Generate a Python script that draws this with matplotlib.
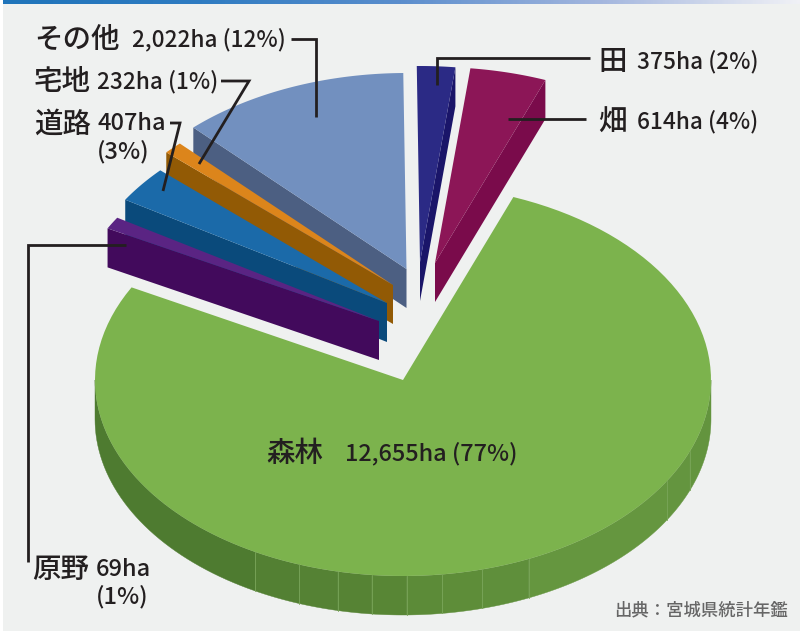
import numpy as np
import matplotlib
matplotlib.use("Agg")
import matplotlib.pyplot as plt

plt.rcParams["font.family"] = ["Noto Sans CJK JP", "DejaVu Sans"]
plt.rcParams["font.weight"] = "medium"

# slices, clockwise from 12 o'clock
names = ["田", "畑", "森林", "原野", "道路", "宅地", "その他"]
hectares = ["375ha", "614ha", "12,655ha", "69ha", "407ha", "232ha", "2,022ha"]
percents = [2, 4, 77, 1, 3, 1, 12]

top_colors = ["#2b2a85", "#8c1657", "#7cb34d", "#5a2483", "#1b6aa9", "#dc851b", "#7290bf"]
wall_colors = ["#1a1569", "#7a0b4b", "#4e7b30", "#420a5c", "#0a4a7b", "#925a05", "#4c5f82"]
# where each exploded slice has its point, in pixels
tips = [(420, 262), (435, 263), (403, 380), (379, 321), (387, 303), (393, 285), (406.5, 269)]
draw_order = [6, 5, 4, 3, 0, 1, 2]

RX, RY, DEPTH = 308, 196, 39
ROTATION = -0.6
INK = "#231f20"

# shading of the big slice's rim, angle from straight down (+ = right)
rim_edges = [90, 68.7, 59, 24.1, 14.9, 7.3, 0.7, -5.8, -12.2, -19.7, -28.7, -90]
rim_colors = ["#63943e", "#64953f", "#65963f", "#5f8f3b", "#5e8d39", "#5c8b38",
              "#588635", "#568334", "#558234", "#538033", "#4e7b30"]


def arc(tip, a0, a1, n=120):
    t = np.radians(np.linspace(a0, a1, n))
    return tip[0] + RX * np.sin(t), tip[1] - RY * np.cos(t)


fig = plt.figure(figsize=(8.02, 6.32), dpi=100, facecolor="white")
ax = fig.add_axes([0, 0, 1, 1])
ax.axis("off")

ax.fill([3, 800, 800, 3], [0, 0, 631, 631], color="#eff1f0", lw=0, zorder=0)

# top band
band = matplotlib.colors.LinearSegmentedColormap.from_list(
    "band", ["#1f74ba", "#2f7cc2", "#5b8ecd", "#a3b6de", "#f0f1f6"]
)
ax.imshow(np.linspace(0, 1, 400).reshape(1, -1), cmap=band, aspect="auto",
          extent=(3, 800, 4, 0), zorder=1)
ax.set_xlim(0, 802)
ax.set_ylim(632, 0)

angles = np.cumsum([0] + percents) * 3.6 + ROTATION

z = 2
for i in draw_order:
    a0, a1 = angles[i], angles[i + 1]
    tip = tips[i]
    x, y = arc(tip, a0, a1)
    if a1 - a0 < 180:
        # cut face that looks towards the viewer
        edge = a1 if (a0 + a1) / 2 < 180 else a0
        ex = tip[0] + RX * np.sin(np.radians(edge))
        ey = tip[1] - RY * np.cos(np.radians(edge))
        ax.fill([tip[0], ex, ex, tip[0]], [tip[1], ey, ey + DEPTH, tip[1] + DEPTH],
                color=wall_colors[i], lw=0, zorder=z)
    else:
        for j, c in enumerate(rim_colors):
            rx, ry = arc(tip, 180 - rim_edges[j], 180 - rim_edges[j + 1], 40)
            ax.fill(np.r_[rx, rx[::-1]], np.r_[ry, ry[::-1] + DEPTH], color=c, lw=0.3,
                    edgecolor=c, zorder=z)
            if 0 < j:
                ax.plot([rx[0], rx[0]], [ry[0], ry[0] + DEPTH], color="#7aa65a", lw=0.6,
                        zorder=z)
    ax.fill(np.r_[tip[0], x], np.r_[tip[1], y], color=top_colors[i], lw=0, zorder=z + 0.5)
    z += 1

# leader lines
leaders = [
    ([291, 316, 316], [39, 39, 117]),
    ([221, 249, 199], [81, 81, 164]),
    ([170, 180, 163], [123, 123, 191]),
    ([126, 28, 28], [245, 245, 562]),
    ([437, 437, 590], [85, 58, 58]),
    ([508, 586], [119, 119]),
]
for lx, ly in leaders:
    ax.plot(lx, ly, color=INK, lw=2, solid_joinstyle="miter", solid_capstyle="butt", zorder=20)


def label(x, y, s, size):
    ax.text(x, y, s, fontsize=size, color=INK, ha="left", va="center", zorder=21)


JP, NUM, NUM_SHORT = 20.5, 16.3, 17
rows = {
    6: (34, 39, 132, 40),
    5: (34, 82, 97, 82),
    4: (34, 124, 97, 124),
    3: (32, 569, 96, 569),
    0: (598, 62, 637, 62),
    1: (598, 122, 637, 122),
}
for i, (nx, ny, vx, vy) in rows.items():
    label(nx, ny, names[i], JP)
    if i in (4, 3):
        label(vx, vy, hectares[i], NUM_SHORT)
        label(vx, vy + 28, f"({percents[i]}%)", NUM_SHORT)
    else:
        label(vx, vy, f"{hectares[i]} ({percents[i]}%)", NUM)

label(266, 454, names[2], JP)
label(345, 454, f"{hectares[2]} ({percents[2]}%)", 16.9)

ax.text(788, 610, "出典：宮城県統計年鑑", fontsize=12.5, color="#666666", ha="right", va="center", zorder=21)

fig.savefig("out.png", dpi=100)
